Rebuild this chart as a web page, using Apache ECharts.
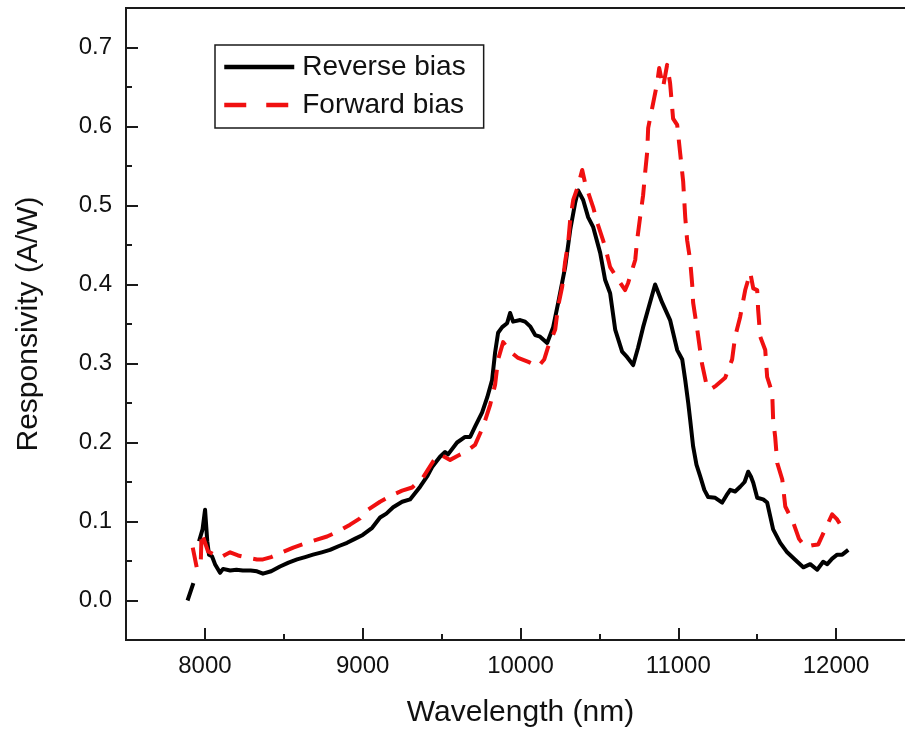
<!DOCTYPE html>
<html>
<head>
<meta charset="utf-8">
<script src="https://cdn.jsdelivr.net/npm/echarts@6/dist/echarts.min.js"></script>
<style>
html,body{margin:0;padding:0;background:#fff;}
#chart{width:905px;height:730px;}
</style>
</head>
<body>
<div id="chart"></div>
<script>
// ---- data ----
const seriesNames = ['Reverse bias', 'Forward bias'];

const reverseWavelength = [7890,7927,7945,7963,7985,8001,8015,8026,8045,8064,8096,8115,8160,8200,8240,8290,8330,8368,8420,8476,8530,8584,8635,8685,8740,8793,8850,8901,8950,9000,9060,9110,9150,9193,9250,9300,9364,9408,9440,9490,9522,9541,9598,9649,9681,9712,9757,9789,9820,9839,9858,9884,9915,9934,9953,9998,10029,10061,10093,10124,10169,10207,10239,10283,10315,10346,10365,10397,10429,10460,10505,10536,10568,10600,10644,10676,10714,10745,10777,10815,10853,10898,10948,10993,11025,11044,11063,11075,11094,11115,11139,11165,11189,11234,11278,11305,11329,11360,11392,11420,11443,11460,11475,11500,11538,11563,11601,11646,11690,11754,11792,11836,11880,11918,11944,11975,12007,12039,12077];
const reverseValue = [0.000,0.022,'-',0.075,0.090,0.115,0.075,0.058,0.056,0.046,0.035,0.040,0.038,0.039,0.038,0.038,0.037,0.034,0.037,0.043,0.048,0.052,0.055,0.058,0.061,0.064,0.069,0.073,0.078,0.083,0.092,0.105,0.110,0.118,0.125,0.128,0.144,0.157,0.169,0.182,0.188,0.185,0.200,0.207,0.207,0.220,0.238,0.257,0.279,0.314,0.339,0.346,0.351,0.364,0.353,0.355,0.353,0.347,0.336,0.334,0.326,0.346,0.377,0.422,0.469,0.503,0.519,0.507,0.485,0.473,0.440,0.406,0.389,0.343,0.315,0.308,0.298,0.320,0.346,0.373,0.400,0.377,0.355,0.317,0.305,0.279,0.250,0.229,0.195,0.172,0.157,0.140,0.131,0.130,0.124,0.133,0.140,0.138,0.144,0.150,0.163,0.157,0.149,0.130,0.128,0.124,0.090,0.073,0.061,0.049,0.042,0.046,0.039,0.049,0.046,0.053,0.058,0.058,0.064];

const forwardWavelength = [7923,7948,7973,7979,7990,8020,8060,8096,8130,8160,8210,8275,8330,8368,8420,8489,8560,8647,8710,8774,8850,8920,8983,9034,9110,9193,9250,9313,9380,9446,9490,9554,9600,9650,9712,9763,9808,9839,9858,9890,9935,9985,10050,10112,10150,10175,10220,10238,10264,10283,10302,10315,10334,10365,10391,10410,10460,10492,10536,10568,10619,10663,10682,10727,10739,10758,10777,10790,10803,10809,10834,10866,10879,10904,10929,10948,10967,10993,11012,11031,11044,11056,11075,11088,11094,11120,11150,11180,11202,11240,11297,11341,11360,11392,11424,11456,11475,11500,11506,11519,11551,11563,11595,11601,11614,11627,11659,11678,11728,11765,11804,11850,11887,11930,11975,12005,12039,12055];
const forwardValue = [0.067,0.042,0.042,0.086,0.086,0.062,0.058,0.054,0.058,0.061,0.057,0.054,0.052,0.052,0.055,0.061,0.067,0.073,0.077,0.081,0.088,0.096,0.104,0.115,0.125,0.134,0.139,0.143,0.155,0.176,0.185,0.178,0.183,0.188,0.197,0.220,0.248,0.273,0.305,0.327,0.315,0.307,0.302,0.296,0.305,0.321,0.343,0.372,0.397,0.429,0.453,0.482,0.507,0.525,0.545,0.528,0.498,0.475,0.448,0.422,0.406,0.393,0.402,0.431,0.456,0.485,0.513,0.542,0.568,0.598,0.623,0.655,0.674,0.650,0.678,0.655,0.610,0.602,0.566,0.530,0.485,0.456,0.431,0.400,0.377,0.343,0.300,0.272,0.267,0.272,0.282,0.305,0.334,0.359,0.393,0.415,0.395,0.393,0.368,0.334,0.317,0.283,0.263,0.229,0.207,0.174,0.153,0.119,0.099,0.078,0.068,0.070,0.071,0.090,0.109,0.103,0.092,0.085];

const xMajorTicks = [8000, 9000, 10000, 11000, 12000];
const xMinorTicks = [8500, 9500, 10500, 11500];
const yMajorTicks = [0, 0.1, 0.2, 0.3, 0.4, 0.5, 0.6, 0.7];
const yMinorTicks = [0.05, 0.15, 0.25, 0.35, 0.45, 0.55, 0.65];

// ---- chart ----
const FONT = '"Liberation Sans", Arial, sans-serif';
const pairs = (xs, ys) => xs.map((x, i) => [x, ys[i]]);

const chart = echarts.init(document.getElementById('chart'), null, {renderer: 'canvas'});

const xBase = {
  type: 'value', min: 7500, max: 12500,
  splitLine: {show: false}
};
const yBase = {
  type: 'value', min: -0.05, max: 0.75,
  splitLine: {show: false}
};
const AX = '#1a1a1a';

chart.setOption({
  animation: false,
  backgroundColor: '#ffffff',
  grid: {
    left: 126, top: 8, right: -10, bottom: 90,
    containLabel: false, outerBoundsMode: 'none',
    show: true, borderColor: AX, borderWidth: 2, backgroundColor: 'transparent'
  },
  legend: {
    data: [
      {name: seriesNames[0], lineStyle: {width: 4.5, type: 'solid'}},
      {name: seriesNames[1], lineStyle: {width: 4.5, type: [22, 20]}}
    ],
    orient: 'vertical',
    left: 215, top: 45,
    itemWidth: 70, itemHeight: 14,
    itemGap: 10,
    padding: [8, 18, 9, 7],
    borderColor: AX, borderWidth: 1.5,
    backgroundColor: '#ffffff',
    itemStyle: {opacity: 0},
    textStyle: {fontFamily: FONT, fontSize: 28, color: '#111', padding: [0, 0, 0, 3]}
  },
  xAxis: [
    Object.assign({}, xBase, {
      name: 'Wavelength (nm)',
      nameLocation: 'middle', nameGap: 58,
      nameTextStyle: {fontFamily: FONT, fontSize: 30, color: '#111'},
      axisLine: {show: true, onZero: false, lineStyle: {color: AX, width: 2}},
      axisTick: {show: true, inside: true, length: 12, customValues: xMajorTicks, lineStyle: {color: AX, width: 2}},
      axisLabel: {show: true, customValues: xMajorTicks, margin: 14, fontFamily: FONT, fontSize: 24, color: '#111',
        formatter: v => String(Math.round(v))}
    }),
    Object.assign({}, xBase, {
      position: 'bottom',
      axisLine: {show: false, onZero: false},
      axisTick: {show: true, inside: true, length: 6, customValues: xMinorTicks, lineStyle: {color: AX, width: 2}},
      axisLabel: {show: false}
    })
  ],
  yAxis: [
    Object.assign({}, yBase, {
      name: 'Responsivity (A/W)',
      nameLocation: 'middle', nameGap: 82,
      nameTextStyle: {fontFamily: FONT, fontSize: 30, color: '#111'},
      axisLine: {show: true, onZero: false, lineStyle: {color: AX, width: 2}},
      axisTick: {show: true, inside: true, length: 12, customValues: yMajorTicks, lineStyle: {color: AX, width: 2}},
      axisLabel: {show: true, customValues: yMajorTicks, margin: 14, fontFamily: FONT, fontSize: 24, color: '#111',
        formatter: v => Number(v).toFixed(1)}
    }),
    Object.assign({}, yBase, {
      position: 'left',
      axisLine: {show: false, onZero: false},
      axisTick: {show: true, inside: true, length: 6, customValues: yMinorTicks, lineStyle: {color: AX, width: 2}},
      axisLabel: {show: false}
    })
  ],
  series: [
    {
      name: seriesNames[0], type: 'line',
      xAxisIndex: 0, yAxisIndex: 0,
      data: pairs(reverseWavelength, reverseValue),
      showSymbol: false, symbol: 'none', connectNulls: false,
      lineStyle: {color: '#000000', width: 4, join: 'round'},
      itemStyle: {color: '#000000'},
      z: 2
    },
    {
      name: seriesNames[1], type: 'line',
      xAxisIndex: 0, yAxisIndex: 0,
      data: pairs(forwardWavelength, forwardValue),
      showSymbol: false, symbol: 'none',
      lineStyle: {color: '#f01010', width: 4, type: [20, 12], join: 'round'},
      itemStyle: {color: '#f01010'},
      z: 3
    }
  ]
});
</script>
</body>
</html>
